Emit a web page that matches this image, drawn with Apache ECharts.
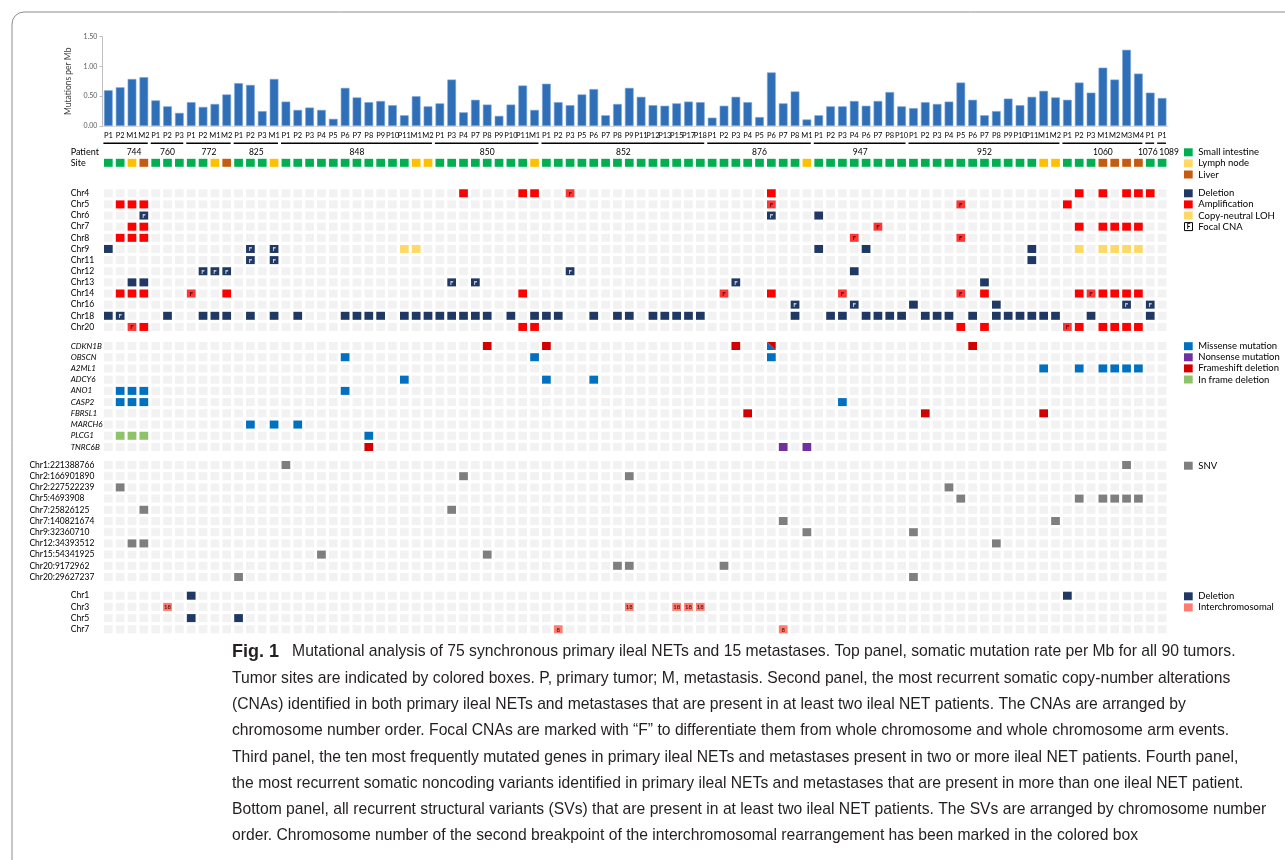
<!DOCTYPE html>
<html>
<head>
<meta charset="utf-8">
<script src="https://cdn.jsdelivr.net/npm/echarts@6/dist/echarts.min.js"></script>
<style>
html, body { margin: 0; padding: 0; background: #fff; }
#chart { width: 1285px; height: 860px; }
</style>
</head>
<body>
<div id="chart"></div>
<script>
// ---- data ----
const patients = ['744', '760', '772', '825', '848', '850', '852', '876', '947', '952', '1060', '1076', '1089'];
const tumorsByPatient = [
  ['P1', 'P2', 'M1', 'M2'],
  ['P1', 'P2', 'P3'],
  ['P1', 'P2', 'M1', 'M2'],
  ['P1', 'P2', 'P3', 'M1'],
  ['P1', 'P2', 'P3', 'P4', 'P5', 'P6', 'P7', 'P8', 'P9', 'P10', 'P11', 'M1', 'M2'],
  ['P1', 'P3', 'P4', 'P7', 'P8', 'P9', 'P10', 'P11', 'M1'],
  ['P1', 'P2', 'P3', 'P5', 'P6', 'P7', 'P8', 'P9', 'P11', 'P12', 'P13', 'P15', 'P17', 'P18'],
  ['P1', 'P2', 'P3', 'P4', 'P5', 'P6', 'P7', 'P8', 'M1'],
  ['P1', 'P2', 'P3', 'P4', 'P6', 'P7', 'P8', 'P10'],
  ['P1', 'P2', 'P3', 'P4', 'P5', 'P6', 'P7', 'P8', 'P9', 'P10', 'P11', 'M1', 'M2'],
  ['P1', 'P2', 'P3', 'M1', 'M2', 'M3', 'M4'],
  ['P1'],
  ['P1']
];
// S = small intestine, N = lymph node, L = liver
const sitesByPatient = ['SSNL', 'SSS', 'SSNL', 'SSSN', 'SSSSSSSSSSSNN', 'SSSSSSSSN', 'SSSSSSSSSSSSSS',
  'SSSSSSSSN', 'SSSSSSSS', 'SSSSSSSSSSSNN', 'SSSLLLL', 'S', 'S'];

const mutationRate = [
  0.60, 0.65, 0.79, 0.82,
  0.43, 0.33, 0.22,
  0.40, 0.32, 0.37, 0.53,
  0.72, 0.69, 0.25, 0.79,
  0.41, 0.27, 0.31, 0.27, 0.12, 0.64, 0.48, 0.40, 0.42, 0.35, 0.18, 0.50, 0.33,
  0.38, 0.78, 0.23, 0.44, 0.36, 0.17, 0.36, 0.68, 0.27,
  0.71, 0.40, 0.35, 0.53, 0.62, 0.18, 0.37, 0.64, 0.49, 0.35, 0.34, 0.38, 0.41, 0.40,
  0.14, 0.34, 0.49, 0.40, 0.15, 0.90, 0.38, 0.58, 0.11,
  0.18, 0.33, 0.33, 0.42, 0.34, 0.42, 0.57, 0.33,
  0.30, 0.40, 0.37, 0.41, 0.73, 0.44, 0.18, 0.25, 0.46, 0.35, 0.49, 0.59, 0.48,
  0.44, 0.73, 0.56, 0.98, 0.78, 1.28, 0.88,
  0.56,
  0.47
];
const rateTicks = [0, 0.5, 1, 1.5];

// copy-number alterations: row -> tumor columns (0..89)
const cnaRows = ['Chr4', 'Chr5', 'Chr6', 'Chr7', 'Chr8', 'Chr9', 'Chr11', 'Chr12', 'Chr13', 'Chr14', 'Chr16', 'Chr18', 'Chr20'];
const cnaAmplification = {
  Chr4: [30, 35, 36, 56, 82, 84, 86, 87, 88],
  Chr5: [1, 2, 3, 81],
  Chr7: [2, 3, 82, 84, 85, 86, 87],
  Chr8: [1, 2, 3],
  Chr14: [1, 2, 3, 10, 35, 56, 74, 82, 84, 85, 86, 87],
  Chr20: [3, 35, 36, 72, 74, 82, 84, 85, 86, 87]
};
const cnaFocalAmplification = {
  Chr4: [39], Chr5: [56, 72], Chr7: [65], Chr8: [63, 72],
  Chr14: [7, 52, 62, 72, 83], Chr20: [2, 81]
};
const cnaDeletion = {
  Chr6: [60],
  Chr9: [0, 60, 64, 78],
  Chr11: [78],
  Chr12: [63],
  Chr13: [2, 3, 74],
  Chr16: [68, 75],
  Chr18: [0, 5, 8, 9, 10, 12, 14, 16, 20, 21, 22, 23, 25, 26, 27, 28, 29, 30, 31, 32, 34, 36, 37, 38,
    41, 43, 44, 46, 47, 48, 49, 50, 58, 61, 62, 64, 65, 66, 67, 69, 70, 71, 73, 75, 76, 77, 78, 79, 80, 83, 88]
};
const cnaFocalDeletion = {
  Chr6: [3, 56], Chr9: [12, 14], Chr11: [12, 14], Chr12: [8, 9, 10, 39],
  Chr13: [29, 31, 53], Chr16: [58, 63, 86, 88], Chr18: [1]
};
const cnaLOH = { Chr9: [25, 26, 82, 84, 85, 86, 87] };

// recurrently mutated genes
const geneRows = ['CDKN1B', 'OBSCN', 'A2ML1', 'ADCY6', 'ANO1', 'CASP2', 'FBRSL1', 'MARCH6', 'PLCG1', 'TNRC6B'];
const missense = {
  OBSCN: [20, 36, 56], A2ML1: [79, 82, 84, 85, 86, 87], ADCY6: [25, 37, 41],
  ANO1: [1, 2, 3, 20], CASP2: [1, 2, 3, 62], MARCH6: [12, 14, 16], PLCG1: [22]
};
const nonsense = { TNRC6B: [57, 59] };
const frameshift = { CDKN1B: [32, 37, 53, 73], FBRSL1: [54, 69, 79], TNRC6B: [22] };
const inframe = { PLCG1: [1, 2, 3] };
const missenseAndFrameshift = { CDKN1B: [56] };

// noncoding SNVs
const snvRows = ['Chr1:221388766', 'Chr2:166901890', 'Chr2:227522239', 'Chr5:4693908', 'Chr7:25826125',
  'Chr7:140821674', 'Chr9:32360710', 'Chr12:34393512', 'Chr15:54341925', 'Chr20:9172962', 'Chr20:29627237'];
const snv = {
  'Chr1:221388766': [15, 86],
  'Chr2:166901890': [30, 44],
  'Chr2:227522239': [1, 71],
  'Chr5:4693908': [72, 82, 84, 85, 86, 87],
  'Chr7:25826125': [3, 29],
  'Chr7:140821674': [57, 80],
  'Chr9:32360710': [59, 68],
  'Chr12:34393512': [2, 3, 75],
  'Chr15:54341925': [18, 32],
  'Chr20:9172962': [43, 44, 52],
  'Chr20:29627237': [11, 68]
};

// structural variants
const svRows = ['Chr1', 'Chr3', 'Chr5', 'Chr7'];
const svDeletion = { Chr1: [7, 81], Chr5: [7, 11] };
const svInterchromosomal = { Chr3: [5, 44, 48, 49, 50], Chr7: [38, 57] };
const svPartner = { Chr3: '18', Chr7: '8' };

const captionLines = [
  'Mutational analysis of 75 synchronous primary ileal NETs and 15 metastases. Top panel, somatic mutation rate per Mb for all 90 tumors.',
  'Tumor sites are indicated by colored boxes. P, primary tumor; M, metastasis. Second panel, the most recurrent somatic copy-number alterations',
  '(CNAs) identified in both primary ileal NETs and metastases that are present in at least two ileal NET patients. The CNAs are arranged by',
  'chromosome number order. Focal CNAs are marked with \u201cF\u201d to differentiate them from whole chromosome and whole chromosome arm events.',
  'Third panel, the ten most frequently mutated genes in primary ileal NETs and metastases present in two or more ileal NET patients. Fourth panel,',
  'the most recurrent somatic noncoding variants identified in primary ileal NETs and metastases that are present in more than one ileal NET patient.',
  'Bottom panel, all recurrent structural variants (SVs) that are present in at least two ileal NET patients. The SVs are arranged by chromosome number',
  'order. Chromosome number of the second breakpoint of the interchromosomal rearrangement has been marked in the colored box'
];

// ---- styling ----
const FONT = 'Lato';
const C = {
  deletion: '#1f3864', amp: '#ff0000', focalAmp: '#ff3535', loh: '#ffd966',
  missense: '#0070c0', nonsense: '#7030a0', frameshift: '#d40000', inframe: '#8fc36a',
  snv: '#7f7f7f', inter: '#ff7b6f', empty: '#f2f2f2',
  S: '#00b050', N: '#ffc000', L: '#c55a11', bar: '#2e6fb7'
};
const CELL_W = 8.7, CELL_H = 8;
const GRID_LEFT = 102.4, GRID_W = 1065.6;
// small horizontal nudges of patient numbers, as in the original figure
const patientLabelNudge = { '744': 8, '1076': -2.5, '1089': 7 };

const tumorLabels = tumorsByPatient.flat();
const siteCodes = sitesByPatient.join('').split('');
const colIdx = tumorLabels.map((_, i) => i);

function cells(map, rows) {
  const out = [];
  Object.keys(map).forEach(r => map[r].forEach(c => out.push([c, rows.indexOf(r)])));
  return out;
}
function allCells(rows) {
  const out = [];
  rows.forEach((_, r) => colIdx.forEach(c => out.push([c, r])));
  return out;
}
function cellRender(data, fill, mark, markFill) {
  return function (params, api) {
    const c = api.coord([api.value(0), api.value(1)]);
    const x = c[0] - CELL_W / 2, y = c[1] - CELL_H / 2;
    const children = [{ type: 'rect', shape: { x, y, width: CELL_W, height: CELL_H }, style: { fill } }];
    const text = mark || data[params.dataIndex][2];
    if (text) {
      children.push({ type: 'text', x: c[0], y: c[1] + 0.5,
        style: { text, align: 'center', verticalAlign: 'middle', fill: markFill, font: 'bold 6px ' + FONT } });
    }
    return { type: 'group', children };
  };
}
function cellSeries(name, gridIdx, data, fill, mark, markFill) {
  return {
    type: 'custom', name, xAxisIndex: gridIdx, yAxisIndex: gridIdx,
    encode: { x: 0, y: 1 }, data, renderItem: cellRender(data, fill, mark, markFill), silent: true
  };
}

// grids: 0 bars, 1 patient/site, 2 CNA, 3 genes, 4 SNV, 5 SV
const grids = [
  { left: GRID_LEFT, width: GRID_W, top: 36.7, height: 89.3 },
  { left: GRID_LEFT, width: GRID_W, top: 146, height: 22.4 },
  { left: GRID_LEFT, width: GRID_W, top: 187.7, height: 144.8 },
  { left: GRID_LEFT, width: GRID_W, top: 340.4, height: 112.2 },
  { left: GRID_LEFT, width: GRID_W, top: 459.4, height: 123.2 },
  { left: GRID_LEFT, width: GRID_W, top: 590.1, height: 44.8 }
];

const xAxes = [{
  type: 'category', gridIndex: 0, data: tumorLabels,
  axisTick: { show: false },
  axisLine: { lineStyle: { color: '#d9d9d9', width: 1 } },
  axisLabel: { interval: 0, fontSize: 7.5, color: '#000', margin: 6, fontFamily: FONT }
}];
for (let g = 1; g < 6; g++) xAxes.push({ type: 'category', gridIndex: g, data: colIdx, show: false });

function rowAxis(g, rows, margin, size, italic) {
  return {
    type: 'category', gridIndex: g, data: rows, inverse: true,
    axisLine: { show: false }, axisTick: { show: false },
    axisLabel: { interval: 0, align: 'left', margin, fontSize: size, color: '#000', fontFamily: FONT, fontStyle: italic ? 'italic' : 'normal' }
  };
}
const yAxes = [
  {
    type: 'value', gridIndex: 0, min: rateTicks[0], max: rateTicks[rateTicks.length - 1], interval: 0.5,
    name: 'Mutations per Mb', nameLocation: 'middle', nameRotate: 90, nameGap: 23,
    nameTextStyle: { fontSize: 8.5, color: '#404040', fontFamily: FONT },
    axisLine: { show: true, lineStyle: { color: '#bfbfbf' } },
    axisTick: { show: true, length: 3, lineStyle: { color: '#bfbfbf' } },
    splitLine: { show: false },
    axisLabel: { fontSize: 7, color: '#595959', margin: 5, fontFamily: FONT, formatter: v => v.toFixed(2) }
  },
  rowAxis(1, ['Patient', 'Site'], 31.7, 9),
  rowAxis(2, cnaRows, 31.7, 8.6),
  rowAxis(3, geneRows, 31.7, 8.1, true),
  rowAxis(4, snvRows, 73, 8.5),
  rowAxis(5, svRows, 31.7, 8.6)
];

// patient groups: [first column, last column, name]
const patientSpans = [];
let start = 0;
tumorsByPatient.forEach((t, i) => { patientSpans.push([start, start + t.length - 1, patients[i], 0]); start += t.length; });
const siteData = siteCodes.map((s, i) => [i, 1, s]);

const series = [
  {
    type: 'bar', name: 'Mutations per Mb', xAxisIndex: 0, yAxisIndex: 0, data: mutationRate, barWidth: 8.7,
    itemStyle: { color: C.bar, borderColor: '#7ea6d8', borderWidth: 0.6 }, silent: true
  },
  {
    type: 'custom', name: 'Patient', xAxisIndex: 1, yAxisIndex: 1, silent: true,
    encode: { x: [0, 1], y: 3 },
    data: patientSpans,
    renderItem: function (params, api) {
      const p = patientSpans[params.dataIndex];
      const a = api.coord([p[0], 0]);
      const b = api.coord([p[1], 0]);
      const half = api.size([1, 0])[0] / 2;
      const y0 = a[1] - 8.4;
      return { type: 'group', children: [
        { type: 'line', shape: { x1: a[0] - half + 1, y1: y0, x2: b[0] + half - 2, y2: y0 }, style: { stroke: '#000', lineWidth: 1.4 } },
        { type: 'text', x: (a[0] + b[0]) / 2 + (patientLabelNudge[p[2]] || 0), y: a[1] + 0.5,
          style: { text: p[2], align: 'center', verticalAlign: 'middle', fill: '#000', font: '8.5px ' + FONT } }
      ] };
    }
  },
  {
    type: 'custom', name: 'Site', xAxisIndex: 1, yAxisIndex: 1, silent: true, encode: { x: 0, y: 1 },
    data: siteData,
    renderItem: function (params, api) {
      const d = siteData[params.dataIndex];
      const c = api.coord([d[0], 1]);
      return { type: 'rect', shape: { x: c[0] - CELL_W / 2, y: c[1] - 4, width: CELL_W, height: 8 }, style: { fill: C[d[2]] } };
    }
  },
  cellSeries('cna-bg', 2, allCells(cnaRows), C.empty),
  cellSeries('Deletion', 2, cells(cnaDeletion, cnaRows), C.deletion),
  cellSeries('Focal deletion', 2, cells(cnaFocalDeletion, cnaRows), C.deletion, 'F', '#d9dde8'),
  cellSeries('Amplification', 2, cells(cnaAmplification, cnaRows), C.amp),
  cellSeries('Focal amplification', 2, cells(cnaFocalAmplification, cnaRows), C.focalAmp, 'F', '#5a0000'),
  cellSeries('Copy-neutral LOH', 2, cells(cnaLOH, cnaRows), C.loh),
  cellSeries('gene-bg', 3, allCells(geneRows), C.empty),
  cellSeries('Missense mutation', 3, cells(missense, geneRows), C.missense),
  cellSeries('Nonsense mutation', 3, cells(nonsense, geneRows), C.nonsense),
  cellSeries('Frameshift deletion', 3, cells(frameshift, geneRows), C.frameshift),
  cellSeries('In frame deletion', 3, cells(inframe, geneRows), C.inframe),
  {
    type: 'custom', name: 'Missense + frameshift', xAxisIndex: 3, yAxisIndex: 3, silent: true, encode: { x: 0, y: 1 },
    data: cells(missenseAndFrameshift, geneRows),
    renderItem: function (params, api) {
      const c = api.coord([api.value(0), api.value(1)]);
      const x0 = c[0] - CELL_W / 2, x1 = c[0] + CELL_W / 2, y0 = c[1] - CELL_H / 2, y1 = c[1] + CELL_H / 2;
      return { type: 'group', children: [
        { type: 'polygon', shape: { points: [[x0, y0], [x1, y0], [x1, y1]] }, style: { fill: C.frameshift } },
        { type: 'polygon', shape: { points: [[x0, y0], [x0, y1], [x1, y1]] }, style: { fill: C.missense } }
      ] };
    }
  },
  cellSeries('snv-bg', 4, allCells(snvRows), C.empty),
  cellSeries('SNV', 4, cells(snv, snvRows), C.snv),
  cellSeries('sv-bg', 5, allCells(svRows), C.empty),
  cellSeries('SV deletion', 5, cells(svDeletion, svRows), C.deletion),
  cellSeries('Interchromosomal', 5,
    cells(svInterchromosomal, svRows).map(d => [d[0], d[1], svPartner[svRows[d[1]]]]), C.inter, null, '#5a1a14')
];

// legends (drawn as graphic groups)
const legendGroups = [
  { top: 152.3, items: [['Small intestine', C.S], ['Lymph node', '#ffd966'], ['Liver', C.L]] },
  { top: 193.3, items: [['Deletion', C.deletion], ['Amplification', C.amp], ['Copy-neutral LOH', C.loh], ['Focal CNA', 'focal']] },
  { top: 346.2, items: [['Missense mutation', C.missense], ['Nonsense mutation', C.nonsense], ['Frameshift deletion', C.frameshift], ['In frame deletion', C.inframe]] },
  { top: 465.7, items: [['SNV', C.snv]] },
  { top: 596.3, items: [['Deletion', C.deletion], ['Interchromosomal', C.inter]] }
];
const graphic = [];
legendGroups.forEach(g => {
  g.items.forEach((it, i) => {
    const cy = g.top + i * 11.1;
    if (it[1] === 'focal') {
      graphic.push({ type: 'rect', x: 1184.5, y: cy - 4, shape: { width: 8, height: 8 }, style: { fill: '#fff', stroke: '#000', lineWidth: 1 } });
      graphic.push({ type: 'text', x: 1188.6, y: cy + 0.5, style: { text: 'F', align: 'center', verticalAlign: 'middle', font: 'bold 6.5px ' + FONT, fill: '#000' } });
    } else {
      graphic.push({ type: 'rect', x: 1184, y: cy - 4, shape: { width: CELL_W, height: 8 }, style: { fill: it[1] } });
    }
    graphic.push({ type: 'text', x: 1198.3, y: cy, style: { text: it[0], verticalAlign: 'middle', font: '9.5px ' + FONT, fill: '#000' } });
  });
});
// figure frame
graphic.push({ type: 'rect', x: 12, y: 12, shape: { width: 1300, height: 900, r: 12 }, style: { fill: 'none', stroke: '#8c8c8c', lineWidth: 1 }, z: -1 });
// caption
captionLines.forEach((line, i) => {
  graphic.push({
    type: 'text', x: 232, y: 652 + i * 26.3,
    style: {
      text: (i === 0 ? '{b|Fig. 1}   ' : '') + line,
      verticalAlign: 'middle', font: '15.7px "Liberation Sans"', fill: '#231f20',
      rich: { b: { fontWeight: 'bold', fontSize: 18, fontFamily: 'Liberation Sans', fill: '#231f20' } }
    }
  });
});

const chart = echarts.init(document.getElementById('chart'));
chart.setOption({
  animation: false,
  backgroundColor: '#fff',
  textStyle: { fontFamily: FONT },
  grid: grids,
  xAxis: xAxes,
  yAxis: yAxes,
  series,
  graphic
});
</script>
</body>
</html>
